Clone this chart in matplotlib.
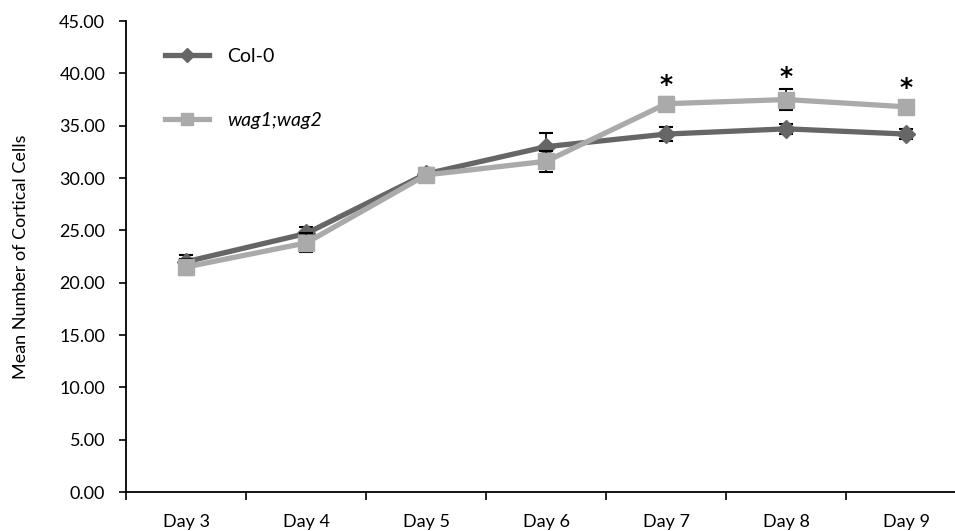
import numpy as np
import matplotlib
matplotlib.use("Agg")
import matplotlib.pyplot as plt

plt.rcParams['font.family'] = ['Lato', 'DejaVu Sans']

days = ["Day 3", "Day 4", "Day 5", "Day 6", "Day 7", "Day 8", "Day 9"]
col0_mean = [22.0, 24.7, 30.4, 33.0, 34.2, 34.7, 34.2]
col0_err = [0.6, 0.6, 0.6, 1.3, 0.7, 0.5, 0.5]
wag_mean = [21.5, 23.8, 30.3, 31.6, 37.1, 37.5, 36.8]
wag_err = [0.8, 0.9, 0.7, 1.0, 0.6, 1.0, 0.6]
signif = [False, False, False, False, True, True, True]

fig = plt.figure(figsize=(9.55, 5.31), dpi=100)
ax = fig.add_axes([0.132, 0.0734, 0.88, 0.887])

x = np.arange(len(days))

ax.errorbar(x, col0_mean, yerr=col0_err, fmt='none', ecolor='black',
            elinewidth=1.2, capsize=5, capthick=1.5, zorder=2)
ax.plot(x, col0_mean, color='#666666', lw=3.8, marker='D', ms=9,
        label='Col-0', zorder=3)
ax.errorbar(x, wag_mean, yerr=wag_err, fmt='none', ecolor='black',
            elinewidth=1.2, capsize=5, capthick=1.5, zorder=4)
ax.plot(x, wag_mean, color='#aaaaaa', lw=3.8, marker='s', ms=12,
        label='wag1;wag2', zorder=5)

# asterisks over significant days
for xi, m, e, s in zip(x, wag_mean, wag_err, signif):
    if s:
        ax.text(xi, m + e + 1.2, '*', ha='center', va='center',
                fontsize=18, fontweight='bold', color='black',
                family='DejaVu Sans')

ax.set_xlim(-0.5, 6.5)
ax.set_ylim(0, 45)
ax.set_yticks(np.arange(0, 46, 5))
ax.set_yticklabels(['%.2f' % v for v in np.arange(0, 46, 5)])
ax.set_xticks(np.arange(-0.5, 7, 1))
ax.set_xticklabels([])
ax.set_xticks(x, minor=True)
ax.set_xticklabels(days, minor=True)
ax.tick_params(axis='x', which='minor', length=0, pad=16, labelsize=13)
ax.tick_params(axis='x', which='major', length=6, width=1.2, direction='out')
ax.tick_params(axis='y', length=5, width=1.2, direction='out', labelsize=13, pad=10)

for side in ['top', 'right']:
    ax.spines[side].set_visible(False)
for side in ['left', 'bottom']:
    ax.spines[side].set_linewidth(1.3)

ax.set_ylabel('Mean Number of Cortical Cells', fontsize=13)
ax.yaxis.set_label_coords(-0.116, 0.5)

leg = ax.legend(loc='upper left', bbox_to_anchor=(0.025, 0.98), frameon=False,
                fontsize=14, labelspacing=2.4, handlelength=2.3,
                handletextpad=0.9, markerscale=0.75)
leg.get_texts()[1].set_style('italic')

fig.savefig('out.png', dpi=100)
